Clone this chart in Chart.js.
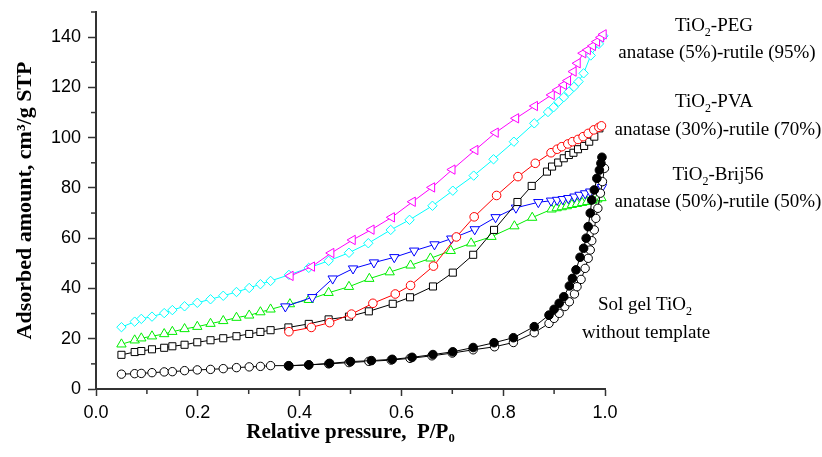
<!DOCTYPE html>
<html><head><meta charset="utf-8">
<script src="https://cdn.jsdelivr.net/npm/chart.js@4.4.1/dist/chart.umd.min.js"></script>
<style>html,body{margin:0;padding:0;background:#fff}#wrap{width:822px;height:457px}</style>
</head><body><div id="wrap"><canvas id="c" width="822" height="457"></canvas></div>
<script>
// ---- data (x = P/P0, y = cm3/g STP) ----
const solGelAdsX = [0.05,0.076,0.089,0.11,0.134,0.15,0.174,0.199,0.225,0.25,0.276,0.301,0.323,0.343,0.378,0.418,0.457,0.497,0.536,0.58,0.617,0.66,0.70,0.741,0.783,0.82,0.861,0.89,0.90,0.91,0.921,0.93,0.94,0.945,0.953,0.961,0.967,0.971,0.974,0.979,0.982,0.986,0.991,0.995,0.999];
const solGelAdsY = [5.9,6.1,6.2,6.5,6.8,6.9,7.3,7.6,7.8,8.1,8.5,8.8,9.0,9.3,9.3,9.6,10.0,10.5,11.0,11.5,12.2,13.2,14.3,15.6,16.8,18.5,22.4,26.1,28.1,30.1,32.8,34.7,37.8,40.7,43.6,48.0,52.0,55.3,59.0,63.3,67.9,71.9,77.9,82.5,87.8];
const solGelDesX = [0.379,0.418,0.459,0.50,0.541,0.582,0.621,0.662,0.701,0.741,0.782,0.82,0.861,0.89,0.90,0.91,0.919,0.93,0.936,0.943,0.951,0.958,0.963,0.967,0.971,0.974,0.979,0.984,0.989,0.992,0.994];
const solGelDesY = [9.2,9.6,10.2,10.9,11.3,11.8,12.6,13.7,14.8,16.5,18.4,20.4,24.8,29.4,31.7,34.1,36.7,41.0,44.0,47.4,52.4,56.0,60.0,64.6,70.0,75.2,79.2,83.8,87.1,89.8,92.2];

const pvaAdsX = [0.05,0.076,0.089,0.11,0.134,0.15,0.174,0.199,0.225,0.25,0.276,0.301,0.323,0.343,0.378,0.418,0.457,0.497,0.536,0.583,0.617,0.662,0.701,0.741,0.782,0.828,0.856,0.886,0.896,0.908,0.919,0.929,0.938,0.947,0.959,0.969,0.979,0.989];
const pvaAdsY = [13.6,14.7,15.1,15.8,16.4,17.0,17.6,18.6,19.4,20.2,21.0,21.9,22.7,23.4,24.5,25.9,27.7,28.8,30.9,33.9,36.5,40.8,46.3,53.4,63.3,74.4,80.8,86.5,88.5,90.1,91.8,93.1,94.0,95.4,96.7,98.4,100.4,103.7];
const pvaDesX = [0.379,0.423,0.459,0.502,0.544,0.588,0.618,0.663,0.708,0.743,0.787,0.829,0.863,0.894,0.906,0.915,0.927,0.936,0.947,0.957,0.967,0.978,0.988,0.993];
const pvaDesY = [22.8,24.5,26.4,29.8,34.1,37.8,41.2,48.9,60.5,68.5,77.0,84.5,89.8,94.0,95.4,96.4,97.5,98.4,99.3,100.4,101.7,103.1,104.1,104.7];

const brijAdsX = [0.05,0.076,0.089,0.11,0.134,0.15,0.174,0.199,0.225,0.25,0.276,0.301,0.323,0.343,0.381,0.418,0.457,0.497,0.537,0.577,0.618,0.657,0.697,0.737,0.777,0.822,0.857,0.895,0.905,0.915,0.925,0.935,0.945,0.955,0.965,0.975,0.985,0.993];
const brijAdsY = [17.8,19.4,20.2,21.0,21.9,22.8,23.9,24.8,26.0,27.1,28.4,29.3,30.6,31.7,33.8,35.5,38.3,40.7,43.9,46.5,49.2,52.0,55.0,58.0,60.6,64.8,68.2,71.5,72.0,72.4,72.8,73.3,73.7,74.1,74.5,75.0,75.5,76.0];
const brijDesX = [0.372,0.425,0.465,0.505,0.546,0.586,0.625,0.665,0.698,0.744,0.785,0.825,0.869,0.894,0.906,0.917,0.928,0.94,0.95,0.961,0.971,0.984,0.994];
const brijDesY = [32.8,36.5,43.9,47.9,50.3,52.4,55.0,57.5,59.8,63.5,68.3,72.1,74.3,74.9,75.2,75.5,75.9,76.5,77.2,77.8,78.5,79.4,80.3];

const pegAdsX = [0.05,0.076,0.089,0.11,0.134,0.15,0.174,0.199,0.225,0.25,0.276,0.301,0.323,0.343,0.379,0.418,0.457,0.497,0.535,0.579,0.616,0.661,0.701,0.742,0.781,0.821,0.861,0.888,0.899,0.909,0.919,0.929,0.939,0.948,0.958,0.972,0.988,0.997];
const pegAdsY = [24.6,26.8,27.9,28.8,30.2,31.4,32.9,34.3,35.7,37.1,38.6,40.2,41.7,43.0,45.4,48.2,51.0,54.2,58.0,63.3,67.3,72.9,78.9,84.9,91.4,98.4,105.7,110.2,112.1,114.3,116.1,118.3,120.2,122.3,125.6,132.7,137.3,140.5];
const pegDesX = [0.382,0.424,0.462,0.504,0.541,0.581,0.622,0.66,0.70,0.745,0.785,0.825,0.862,0.895,0.907,0.919,0.927,0.938,0.946,0.957,0.966,0.976,0.984,0.992,0.997];
const pegDesY = [45.0,48.7,54.1,59.3,63.4,68.3,74.5,80.2,87.3,95.1,102.0,107.7,112.6,117.0,119.0,121.0,122.7,126.3,129.6,133.6,134.9,136.5,138.2,139.9,141.1];

const xTickLabels = ['0.0','0.2','0.4','0.6','0.8','1.0'];
const yTickLabels = ['0','20','40','60','80','100','120','140'];
const xTitle = 'Relative pressure,  P/P\u2080';
const yTitle = 'Adsorbed amount, cm\u00B3/g STP';
// annotation texts: [text, kind]
const noteLines = [
  [['TiO',''],['2','sub'],['-PEG','']],
  [['anatase (5%)-rutile (95%)','']],
  [['TiO',''],['2','sub'],['-PVA','']],
  [['anatase (30%)-rutile (70%)','']],
  [['TiO',''],['2','sub'],['-Brij56','']],
  [['anatase (50%)-rutile (50%)','']],
  [['Sol gel TiO',''],['2','sub']],
  [['without template','']]
];
// ---- layout ----
const notePos = [[714,31],[717,58],[714,107],[718,135],[718,180],[718,207],[645,310],[646,338]];

function pts(xs, ys){ return xs.map((x,i)=>({x:x, y:ys[i]})); }
function ds(label, xs, ys, color, style, rot, fill, r){
  return {label, data: pts(xs,ys), showLine:true, tension:0, borderColor:color, borderWidth:1,
    pointStyle:style, pointRotation:rot||0, pointRadius:r, pointHoverRadius:r,
    pointBorderColor:color, pointBackgroundColor:fill, pointBorderWidth:1, clip:false};
}
const datasets = [
  ds('Sol gel desorption', solGelDesX, solGelDesY, '#000000', 'circle', 0, '#000000', 4.3),
  ds('Sol gel adsorption', solGelAdsX, solGelAdsY, '#000000', 'circle', 0, '#ffffff', 4.2),
  ds('PVA desorption', pvaDesX, pvaDesY, '#ff0000', 'circle', 0, '#ffffff', 4.3),
  ds('PVA adsorption', pvaAdsX, pvaAdsY, '#000000', 'rect', 0, '#ffffff', 5),
  ds('Brij56 desorption', brijDesX, brijDesY, '#0000ff', 'triangle', 180, '#ffffff', 5.4),
  ds('Brij56 adsorption', brijAdsX, brijAdsY, '#00ee00', 'triangle', 0, '#ffffff', 5.4),
  ds('PEG desorption', pegDesX, pegDesY, '#ff00ff', 'triangle', 270, '#ffffff', 5.4),
  ds('PEG adsorption', pegAdsX, pegAdsY, '#00ffff', 'rectRot', 0, '#ffffff', 4.7)
];

const serif = "'Liberation Serif','Times New Roman',serif";
const sans = "'Liberation Sans',Arial,sans-serif";

const minorTicks = {
  id:'minorTicks',
  afterDraw(chart){
    const ctx = chart.ctx, xs = chart.scales.x, ys = chart.scales.y;
    ctx.save(); ctx.strokeStyle = '#333'; ctx.lineWidth = 1.5;
    const b = ys.getPixelForValue(0), l = xs.getPixelForValue(0);
    [0.1,0.3,0.5,0.7,0.9].forEach(v=>{ const p = xs.getPixelForValue(v); ctx.beginPath(); ctx.moveTo(p,b); ctx.lineTo(p,b+5); ctx.stroke(); });
    [10,30,50,70,90,110,130,150].forEach(v=>{ const p = ys.getPixelForValue(v); ctx.beginPath(); ctx.moveTo(l-5,p); ctx.lineTo(l,p); ctx.stroke(); });
    ctx.restore();
  }
};
const notes = {
  id:'notes',
  afterDraw(chart){
    const ctx = chart.ctx;
    ctx.save(); ctx.fillStyle = '#000'; ctx.textBaseline = 'alphabetic'; ctx.textAlign = 'left';
    const big = '19px ' + serif, small = '12px ' + serif;
    noteLines.forEach((parts, i)=>{
      let w = 0;
      parts.forEach(([t,k])=>{ ctx.font = k==='sub'?small:big; w += ctx.measureText(t).width; });
      let x = notePos[i][0] - w/2; const y = notePos[i][1];
      parts.forEach(([t,k])=>{ ctx.font = k==='sub'?small:big; ctx.fillText(t, x, k==='sub'? y+5 : y); x += ctx.measureText(t).width; });
    });
    ctx.restore();
  }
};

new Chart(document.getElementById('c'), {
  type:'scatter',
  data:{datasets},
  plugins:[minorTicks, notes],
  options:{
    responsive:false, animation:false, devicePixelRatio:1,
    layout:{padding:{left:0, right:217, top:12, bottom:0}},
    plugins:{legend:{display:false}, tooltip:{enabled:false}},
    scales:{
      x:{type:'linear', min:0, max:1,
        afterFit(s){ s.height = 68; s.paddingLeft = 0; s.paddingRight = 0; },
        border:{display:true, color:'#333', width:2},
        grid:{drawOnChartArea:false, drawTicks:true, tickLength:7,
          tickColor:(c)=> (Math.round(c.tick.value*10)%2===0 ? '#333' : 'rgba(0,0,0,0)'), tickWidth:1.5},
        ticks:{stepSize:0.1, padding:6, color:'#000', maxRotation:0, autoSkip:false,
          font:{family:sans, size:18},
          callback:(v)=>{ const k = Math.round(v*10); return k%2===0 ? xTickLabels[k/2] : ''; }},
        title:{display:true, text:xTitle, color:'#000', font:{family:serif, size:21, weight:'bold'}, padding:{top:0, bottom:12}}
      },
      y:{type:'linear', min:0, max:150,
        afterFit(s){ s.width = 96; s.paddingTop = 0; s.paddingBottom = 0; },
        border:{display:true, color:'#333', width:2},
        grid:{drawOnChartArea:false, drawTicks:true, tickLength:8,
          tickColor:(c)=> (Math.round(c.tick.value)%20===0 ? '#333' : 'rgba(0,0,0,0)'), tickWidth:1.5},
        ticks:{stepSize:10, padding:7, color:'#000', autoSkip:false,
          font:{family:sans, size:18},
          callback:(v)=>{ const k = Math.round(v); return (k%20===0 && k<=140) ? yTickLabels[k/20] : ''; }},
        title:{display:true, text:yTitle, color:'#000', font:{family:serif, size:22, weight:'bold'}, padding:{top:12, bottom:0}}
      }
    }
  }
});
</script></body></html>
